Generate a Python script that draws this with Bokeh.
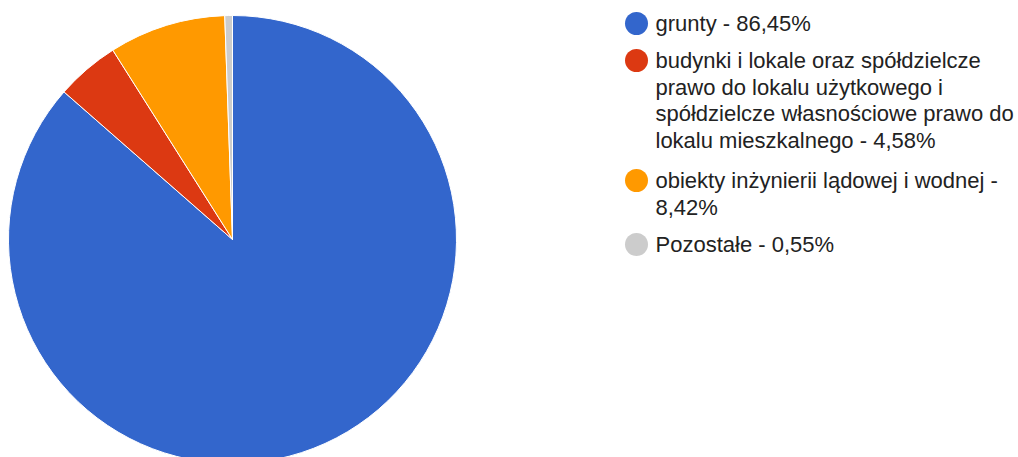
import math
from bokeh.plotting import figure
from bokeh.models import Range1d, ColumnDataSource
from bokeh.core.properties import value
from bokeh.embed import file_html
from bokeh.resources import INLINE

# ---- data ----
categories = [
    "grunty",
    "budynki i lokale oraz spółdzielcze prawo do lokalu użytkowego i spółdzielcze własnościowe prawo do lokalu mieszkalnego",
    "obiekty inżynierii lądowej i wodnej",
    "Pozostałe",
]
shares = [86.45, 4.58, 8.42, 0.55]
share_labels = ["86,45%", "4,58%", "8,42%", "0,55%"]
colors = ["#3366cc", "#dc3912", "#ff9900", "#cccccc"]
legend_lines = [
    ["grunty - 86,45%"],
    ["budynki i lokale oraz spółdzielcze",
     "prawo do lokalu użytkowego i",
     "spółdzielcze własnościowe prawo do",
     "lokalu mieszkalnego - 4,58%"],
    ["obiekty inżynierii lądowej i wodnej -",
     "8,42%"],
    ["Pozostałe - 0,55%"],
]

# ---- layout (pixel-like data coordinates, y up) ----
W, H = 1018, 457
def py(page_y):
    return H - page_y

p = figure(width=W, height=H, output_backend="svg", toolbar_location=None,
           x_range=Range1d(0, W), y_range=Range1d(0, H), min_border=0)
p.axis.visible = False
p.grid.visible = False
p.outline_line_color = None
p.background_fill_color = "white"
p.border_fill_color = "white"

cx, cy, r = 232, py(239), 224
total = sum(shares)
starts, ends = [], []
cum = 0.0
for s in shares:
    starts.append(math.pi / 2 - 2 * math.pi * cum / total)
    cum += s
    ends.append(math.pi / 2 - 2 * math.pi * cum / total)

src = ColumnDataSource(dict(start=starts, end=ends, color=colors, cat=categories))
p.wedge(x=cx, y=cy, radius=r, start_angle="start", end_angle="end",
        direction="clock", fill_color="color", line_color="white",
        line_width=1, source=src)

# legend
marker_centers = [23, 60, 180, 244]
line_step = 26.5
mx, tx = 636, 655
lx, ly, ltxt = [], [], []
for i, lines in enumerate(legend_lines):
    for j, t in enumerate(lines):
        lx.append(tx)
        ly.append(py(marker_centers[i] + j * line_step))
        ltxt.append(t)

p.scatter(x=[mx] * len(colors), y=[py(v) for v in marker_centers],
          size=23, marker="circle", fill_color=colors, line_color=None)
p.text(x=lx, y=ly, text=ltxt, text_font=value("Liberation Sans"),
       text_font_size="22px", text_color="#222222",
       text_baseline="middle", text_align="left")

open("out.html", "w").write(file_html(p, INLINE))
